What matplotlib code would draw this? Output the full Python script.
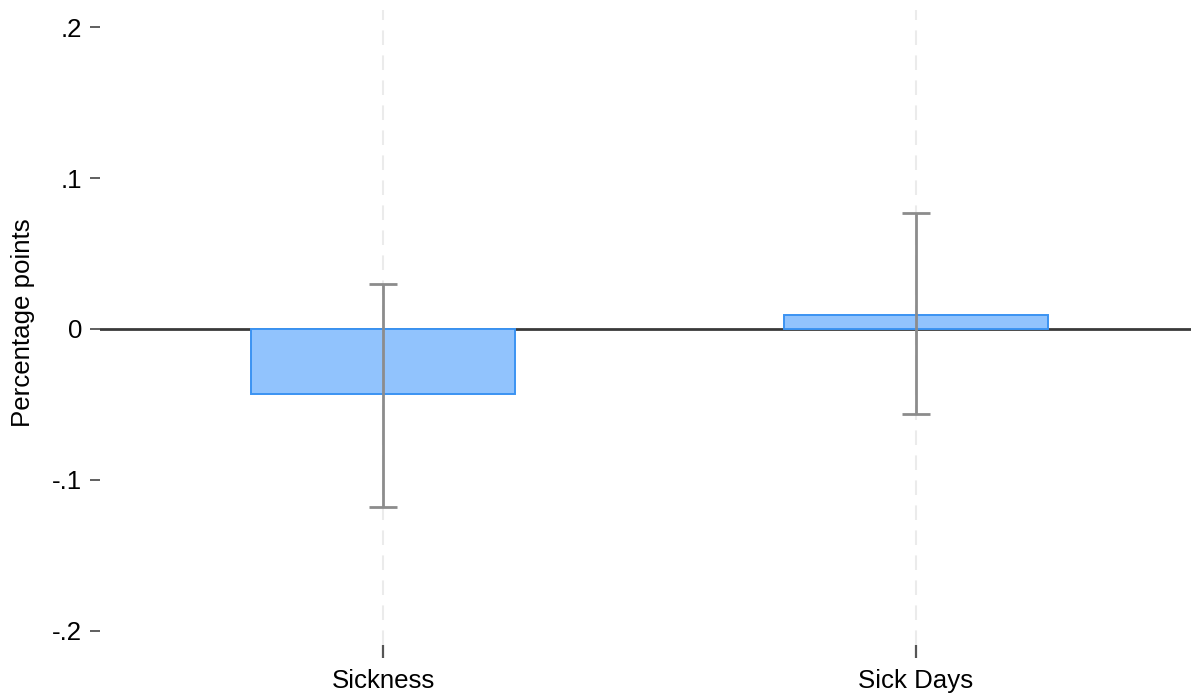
import matplotlib
matplotlib.use("Agg")
import matplotlib.pyplot as plt

categories = ["Sickness", "Sick Days"]
estimates = [-0.043, 0.0093]
ci_low = [-0.1179, -0.0565]
ci_high = [0.0298, 0.0768]
yticks = [-0.2, -0.1, 0.0, 0.1, 0.2]
yticklabels = ["-.2", "-.1", "0", ".1", ".2"]

plt.rcParams['font.family'] = ['Liberation Sans', 'DejaVu Sans']

W, H = 1191, 694
fig = plt.figure(figsize=(W / 100, H / 100), dpi=100)
left, right, top, bottom = 100, 1191, 0, 645
ax = fig.add_axes([left / W, 1 - bottom / H, (right - left) / W, (bottom - top) / H])

x = [1, 2]
ax.bar(x, estimates, width=0.497, color="#91c3fd", edgecolor="#3b93f2",
       linewidth=1.4, zorder=3)
ax.axhline(0, color="#3a3a3a", linewidth=2, zorder=2)
yerr = [[e - l for e, l in zip(estimates, ci_low)],
        [h - e for e, h in zip(estimates, ci_high)]]
ax.errorbar(x, estimates, yerr=yerr, fmt="none", ecolor="#8c8c8c",
            elinewidth=2, capsize=10, capthick=2, zorder=4)
for xi in x:
    ax.axvline(xi, ymax=0.985, color="#ebebeb", linewidth=1.5,
               linestyle=(0, (7, 5)), zorder=1)

ax.set_xlim(0.469, 2.516)
ax.set_ylim(-0.2093, 0.2179)
ax.set_xticks(x)
ax.set_xticklabels(categories, fontsize=18.6)
ax.set_yticks(yticks)
ax.set_yticklabels(yticklabels, fontsize=18.6)
ax.set_ylabel("Percentage points", fontsize=18.6, labelpad=12)
ax.tick_params(axis="y", direction="out", length=7, width=1.2, color="#444444", pad=6)
ax.tick_params(axis="x", direction="out", length=9, width=1.6, color="#555555", pad=8)
for s in ax.spines.values():
    s.set_visible(False)
fig.savefig("out.png", dpi=100)
